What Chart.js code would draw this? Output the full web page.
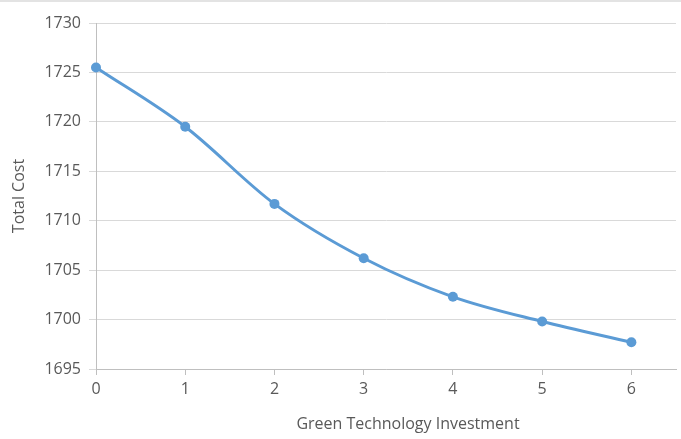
<!DOCTYPE html>
<html>
<head>
<meta charset="utf-8">
<script src="https://cdn.jsdelivr.net/npm/chart.js@4/dist/chart.umd.min.js"></script>
<style>
  html, body { margin: 0; padding: 0; background: #ffffff; }
  body { width: 681px; height: 439px; overflow: hidden; }
  #wrap { position: relative; width: 681px; height: 439px; border-top: 2px solid #e3e3e3; box-sizing: border-box; }
  canvas { display: block; }
</style>
</head>
<body>
<div id="wrap"><canvas id="chart" width="681" height="437"></canvas></div>
<script>
// Total cost as a function of the green technology investment level
const investment = [0, 1, 2, 3, 4, 5, 6];
const totalCost = [1725.5, 1719.5, 1711.7, 1706.2, 1702.3, 1699.8, 1697.7];
const xTicks = [0, 1, 2, 3, 4, 5, 6];
const xTitle = 'Green Technology Investment';
const yTitle = 'Total Cost';

const textColor = '#595959';
const fontFamily = '"Open Sans", "Segoe UI", sans-serif';

// Draws the horizontal axis title a little right of the plot centre
const xTitlePlugin = {
  id: 'xTitlePlugin',
  afterDraw(chart) {
    const { ctx, chartArea } = chart;
    ctx.save();
    ctx.fillStyle = textColor;
    ctx.font = '16px ' + fontFamily;
    ctx.textAlign = 'center';
    ctx.textBaseline = 'middle';
    ctx.fillText(xTitle, (chartArea.left + chartArea.right) / 2 + 22, chartArea.bottom + 55);
    ctx.restore();
  }
};

new Chart(document.getElementById('chart'), {
  type: 'line',
  data: {
    datasets: [{
      data: investment.map((x, i) => ({ x: x, y: totalCost[i] })),
      borderColor: '#5b9bd5',
      backgroundColor: '#5b9bd5',
      borderWidth: 3,
      pointRadius: 5,
      pointBorderWidth: 0,
      cubicInterpolationMode: 'monotone',
      clip: false,
      fill: false
    }]
  },
  options: {
    responsive: false,
    animation: false,
    layout: { padding: { left: 0, right: 5, top: 21, bottom: 0 } },
    plugins: { legend: { display: false }, tooltip: { enabled: false } },
    scales: {
      x: {
        type: 'linear',
        min: 0,
        max: 6.5,
        afterBuildTicks(scale) { scale.ticks = xTicks.map(v => ({ value: v })); },
        afterFit(scale) { scale.height = 70; },
        grid: { drawOnChartArea: false, color: '#bfbfbf', tickLength: 6 },
        border: { color: '#bfbfbf', width: 1 },
        ticks: { color: textColor, font: { family: fontFamily, size: 16 }, padding: 5, maxRotation: 0,
                 callback: v => String(v) }
      },
      y: {
        min: 1695,
        max: 1730,
        afterFit(scale) { scale.width = 96; },
        grid: { color: '#d9d9d9', tickLength: 7 },
        border: { color: '#bfbfbf', width: 1 },
        ticks: { stepSize: 5, color: textColor, font: { family: fontFamily, size: 16 }, padding: 8,
                 callback: v => String(v) },
        title: { display: true, text: yTitle, color: textColor, font: { family: fontFamily, size: 16 }, padding: { top: 10, bottom: 0 } }
      }
    }
  },
  plugins: [xTitlePlugin]
});
</script>
</body>
</html>
